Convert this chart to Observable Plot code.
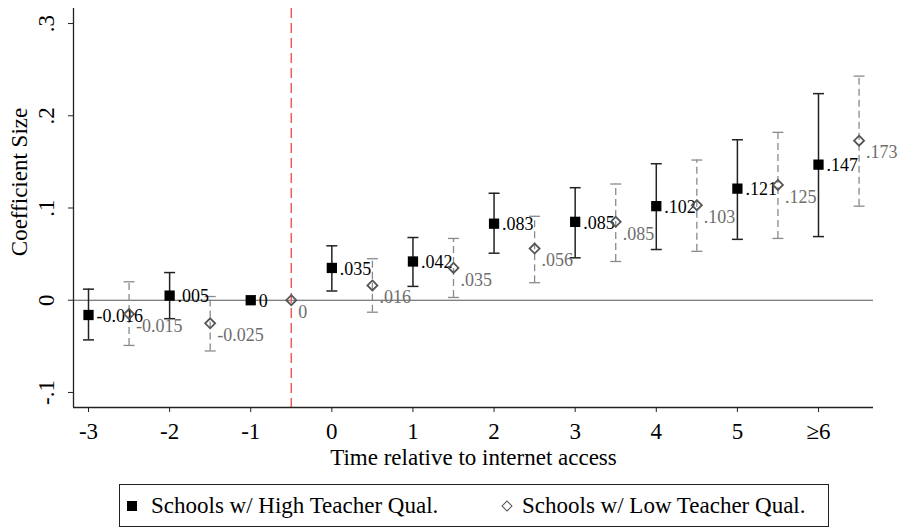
<!DOCTYPE html>
<html><head><meta charset="utf-8">
<script src="https://cdn.jsdelivr.net/npm/d3@7"></script>
<script src="https://cdn.jsdelivr.net/npm/@observablehq/plot@0.6"></script>
<style>
body{margin:0;background:#fff;font-family:"Liberation Serif","Times New Roman",serif;}
#chart svg{display:block;font-family:"Liberation Serif","Times New Roman",serif;}
#legend{position:relative;margin-top:4px;margin-left:119px;width:708px;height:41px;border:1px solid #222;font-size:23px;color:#000;}
.item{position:absolute;top:0;height:41px;display:flex;align-items:center;white-space:nowrap;}
.sq{width:10px;height:10px;background:#000;margin-right:14px;}
.dm{width:6px;height:6px;border:1.6px solid #555;transform:rotate(45deg);margin-right:11px;margin-left:2px;}
</style></head><body>
<div id="chart"></div>
<div id="legend"></div>
<script>
// ---- data ----
const periods = [-3, -2, -1, 0, 1, 2, 3, 4, 5, 6];
const periodLabels = ["-3", "-2", "-1", "0", "1", "2", "3", "4", "5", "≥6"];
const highCoef = [-0.016, 0.005, 0, 0.035, 0.042, 0.083, 0.085, 0.102, 0.121, 0.147];
const highLo   = [-0.043, -0.020, null, 0.010, 0.015, 0.051, 0.046, 0.055, 0.066, 0.069];
const highHi   = [0.012, 0.030, null, 0.059, 0.068, 0.116, 0.122, 0.148, 0.174, 0.224];
const lowCoef  = [-0.015, -0.025, 0, 0.016, 0.035, 0.056, 0.085, 0.103, 0.125, 0.173];
const lowLo    = [-0.049, -0.055, null, -0.013, 0.003, 0.019, 0.042, 0.053, 0.067, 0.102];
const lowHi    = [0.020, 0.004, null, 0.045, 0.067, 0.091, 0.126, 0.152, 0.182, 0.243];
const lowShift = 0.5;
const refPeriod = -0.5;
const yTicks = [-0.1, 0, 0.1, 0.2, 0.3];
const yTickLabels = ["-.1", "0", ".1", ".2", ".3"];
const seriesNames = ["Schools w/ High Teacher Qual.", "Schools w/ Low Teacher Qual."];
const xTitle = "Time relative to internet access";
const yTitle = "Coefficient Size";
const xDomain = [-3.185, 6.678];
const yDomain = [-0.1163, 0.3163];

// ---- build rows ----
const fmt = v => v === 0 ? "0" : d3.format(".3f")(v).replace(/^(-?)0\./, "$1.").replace("−", "-");
const high = periods.map((p, i) => ({x: p, y: highCoef[i], lo: highLo[i], hi: highHi[i], label: fmt(highCoef[i])}));
const low = periods.map((p, i) => ({x: p + lowShift, y: lowCoef[i], lo: lowLo[i], hi: lowHi[i], label: fmt(lowCoef[i])}));
const highCI = high.filter(d => d.lo != null);
const lowCI = low.filter(d => d.lo != null);

const capSymbol = {draw(ctx, size) { const r = Math.sqrt(size / Math.PI); ctx.moveTo(-r, 0); ctx.lineTo(r, 0); }};

const chart = Plot.plot({
  width: 901, height: 480,
  marginLeft: 73, marginRight: 28, marginTop: 8, marginBottom: 73,
  style: {fontFamily: "Liberation Serif, Times New Roman, serif", background: "#fff"},
  x: {domain: xDomain, axis: null},
  y: {domain: yDomain, axis: null},
  marks: [
    Plot.ruleY([0], {stroke: "#555", strokeWidth: 1.2}),
    Plot.ruleX([refPeriod], {stroke: "#ee5b5b", strokeWidth: 1.5, strokeDasharray: "10,5"}),
    // axes lines
    Plot.ruleX([xDomain[0]], {stroke: "#222", strokeWidth: 1.3}),
    Plot.ruleY([yDomain[0]], {stroke: "#222", strokeWidth: 1.3}),
    Plot.axisX({ticks: periods, tickFormat: d => periodLabels[periods.indexOf(d)], tickSize: 5, tickPadding: 10, fontSize: 23, label: null, stroke: "#222", color: "#000"}),
    Plot.axisY({ticks: yTicks, tickSize: 5, tickFormat: d => "", label: null, stroke: "#222"}),
    Plot.text(yTicks, {frameAnchor: "left", y: d => d, text: (d) => yTickLabels[yTicks.indexOf(d)], rotate: -90, dx: -27, fontSize: 23, fill: "#000", lineAnchor: "middle", textAnchor: "middle"}),
    Plot.text([xTitle], {frameAnchor: "bottom", text: d => d, dy: 50, fontSize: 23, fill: "#000", lineAnchor: "middle", textAnchor: "middle"}),
    Plot.text([yTitle], {frameAnchor: "left", text: d => d, rotate: -90, dx: -54, dy: -26, fontSize: 23, fill: "#000", lineAnchor: "middle", textAnchor: "middle"}),
    // low series (dashed gray)
    Plot.ruleX(lowCI, {x: "x", y1: "lo", y2: "hi", stroke: "#8a8a8a", strokeWidth: 1.3, strokeDasharray: "7,4"}),
    Plot.dot(lowCI, {x: "x", y: "lo", symbol: capSymbol, r: 5.5, stroke: "#8a8a8a", strokeWidth: 1.3, fill: "none"}),
    Plot.dot(lowCI, {x: "x", y: "hi", symbol: capSymbol, r: 5.5, stroke: "#8a8a8a", strokeWidth: 1.3, fill: "none"}),
    // high series (solid black)
    Plot.ruleX(highCI, {x: "x", y1: "lo", y2: "hi", stroke: "#222", strokeWidth: 1.5}),
    Plot.dot(highCI, {x: "x", y: "lo", symbol: capSymbol, r: 5.5, stroke: "#222", strokeWidth: 1.5, fill: "none"}),
    Plot.dot(highCI, {x: "x", y: "hi", symbol: capSymbol, r: 5.5, stroke: "#222", strokeWidth: 1.5, fill: "none"}),
    Plot.dot(high, {x: "x", y: "y", symbol: "square", r: 5.8, fill: "#000", stroke: "none"}),
    Plot.text(high, {x: "x", y: "y", text: "label", dx: 8, dy: 1, textAnchor: "start", fontSize: 18, fill: "#000"}),
    Plot.text(low, {x: "x", y: "y", text: "label", dx: 7, dy: 12, textAnchor: "start", fontSize: 18, fill: "#6e6e6e"}),
    Plot.dot(low, {x: "x", y: "y", symbol: "diamond2", r: 4.5, stroke: "#555", strokeWidth: 1.8, fill: "none"})
  ]
});
document.getElementById("chart").appendChild(chart);

const legend = document.getElementById("legend");
legend.innerHTML =
  `<div class="item" style="left:7px"><div class="sq"></div><span>${seriesNames[0]}</span></div>` +
  `<div class="item" style="left:381px"><div class="dm"></div><span>${seriesNames[1]}</span></div>`;
</script>
</body></html>
